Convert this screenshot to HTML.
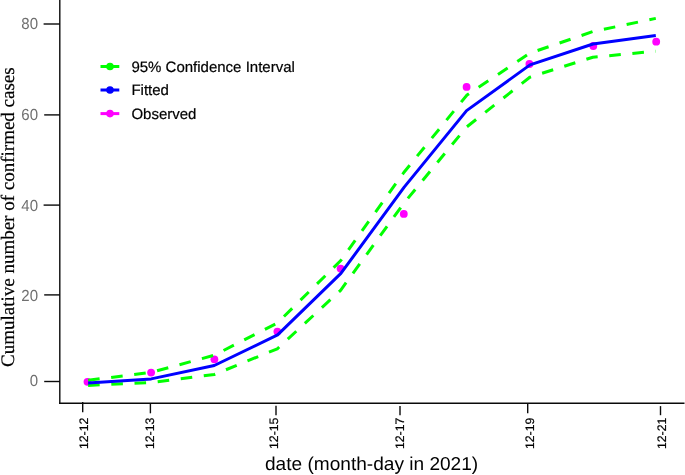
<!DOCTYPE html>
<html>
<head>
<meta charset="utf-8">
<style>
html,body{margin:0;padding:0;background:#fff;}
body{width:685px;height:475px;overflow:hidden;}
svg{display:block;will-change:transform;opacity:0.999;}
text{font-family:"Liberation Sans",sans-serif;text-rendering:geometricPrecision;}
.yl{font-size:16px;fill:#707070;text-anchor:end;}
.xl{font-size:12.3px;fill:#000;stroke:#000;stroke-width:0.2px;}
.lg{font-size:15px;fill:#000;stroke:#000;stroke-width:0.2px;}
</style>
</head>
<body>
<svg width="685" height="475" viewBox="0 0 685 475">
<rect width="685" height="475" fill="#fff"/>
<!-- axes -->
<g stroke="#0a0a0a" stroke-width="1.4" fill="none">
<line x1="59.8" y1="0" x2="59.8" y2="404"/>
<line x1="59" y1="403.3" x2="684.5" y2="403.3"/>
<line x1="43.6" y1="24" x2="60" y2="24"/>
<line x1="44.2" y1="114.9" x2="60" y2="114.9"/>
<line x1="43.6" y1="205.1" x2="60" y2="205.1"/>
<line x1="44.2" y1="294.9" x2="60" y2="294.9"/>
<line x1="44.2" y1="381.5" x2="60" y2="381.5"/>
<line x1="82.7" y1="402" x2="82.7" y2="412.2"/>
<line x1="150.4" y1="403" x2="150.4" y2="413.3"/>
<line x1="276" y1="405.7" x2="276" y2="415.2"/>
<line x1="400" y1="406.1" x2="400" y2="415.2"/>
<line x1="527.7" y1="403" x2="527.7" y2="413.3"/>
<line x1="660.5" y1="406.1" x2="660.5" y2="415.2"/>
</g>
<!-- y tick labels -->
<text class="yl" x="38" y="29.4" textLength="16.7" lengthAdjust="spacingAndGlyphs">80</text>
<text class="yl" x="38" y="120.3" textLength="16.7" lengthAdjust="spacingAndGlyphs">60</text>
<text class="yl" x="38" y="211" textLength="16.7" lengthAdjust="spacingAndGlyphs">40</text>
<text class="yl" x="38" y="301.1" textLength="16.7" lengthAdjust="spacingAndGlyphs">20</text>
<text class="yl" x="38" y="386.4" textLength="8.35" lengthAdjust="spacingAndGlyphs">0</text>
<!-- x tick labels -->
<text class="xl" transform="translate(88.2,449.1) rotate(-90)">12-12</text>
<text class="xl" transform="translate(154.3,449.1) rotate(-90)">12-13</text>
<text class="xl" transform="translate(278.3,449) rotate(-90)">12-15</text>
<text class="xl" transform="translate(404.3,449.1) rotate(-90)">12-17</text>
<text class="xl" transform="translate(534.3,449.1) rotate(-90)">12-19</text>
<text class="xl" transform="translate(666.4,449.1) rotate(-90)">12-21</text>
<!-- axis titles -->
<text x="265" y="470.4" textLength="213.2" lengthAdjust="spacingAndGlyphs" style="font-size:18.7px;fill:#000;">date (month-day in 2021)</text>
<text transform="translate(14.4,367) rotate(-90)" textLength="299.7" lengthAdjust="spacingAndGlyphs" style="font-family:'Liberation Serif',serif;font-size:19px;fill:#000;stroke:#000;stroke-width:0.2px;">Cumulative number of confirmed cases</text>
<!-- observed -->
<g fill="#ff00ff">
<circle cx="87.5" cy="381.8" r="3.9"/>
<circle cx="151.1" cy="372.6" r="3.9"/>
<circle cx="214.4" cy="359.3" r="3.9"/>
<circle cx="277.4" cy="331.6" r="3.9"/>
<circle cx="340.6" cy="268.6" r="3.9"/>
<circle cx="403.8" cy="213.9" r="3.9"/>
<circle cx="466.6" cy="86.9" r="3.9"/>
<circle cx="529.4" cy="64" r="3.9"/>
<circle cx="593.3" cy="46" r="3.9"/>
<circle cx="656.2" cy="41.7" r="3.9"/>
</g>
<!-- CI -->
<g stroke="#00ff00" stroke-width="3" fill="none" stroke-dasharray="11.6 11.63" stroke-linejoin="round">
<polyline points="88.1,380.3 151.2,372.4 214.3,355.2 277.3,323 340.8,260.5 403.8,172.5 467,95 529.8,53.2 592.8,31.6 655.8,18.4"/>
<polyline points="88.1,385.4 151.2,382.5 214.3,374.5 277.3,348.8 340.6,290.3 403.8,203.3 466.6,127 529.8,77.2 592.8,57.2 655.8,51.2"/>
</g>
<!-- fitted -->
<polyline fill="none" stroke="#0000ff" stroke-width="3" stroke-linejoin="round" points="88.1,383.1 151.2,378.9 214.3,365.5 277.6,334.9 340.9,273.4 404,187.4 466.6,110.6 530,64.9 593,44 655.8,35.6"/>
<!-- legend -->
<g>
<line x1="100.5" y1="66.5" x2="119.3" y2="66.5" stroke="#00ff00" stroke-width="3"/>
<circle cx="110" cy="66.5" r="3.8" fill="#00ff00"/>
<line x1="100.5" y1="90" x2="119.3" y2="90" stroke="#0000ff" stroke-width="3"/>
<circle cx="110" cy="90" r="3.8" fill="#0000ff"/>
<line x1="100.5" y1="113.6" x2="119.3" y2="113.6" stroke="#ff00ff" stroke-width="3"/>
<circle cx="110" cy="113.6" r="3.8" fill="#ff00ff"/>
<text class="lg" x="131.4" y="72.2">95% Confidence Interval</text>
<text class="lg" x="131.4" y="95.4">Fitted</text>
<text class="lg" x="131.4" y="119">Observed</text>
</g>
</svg>
</body>
</html>
